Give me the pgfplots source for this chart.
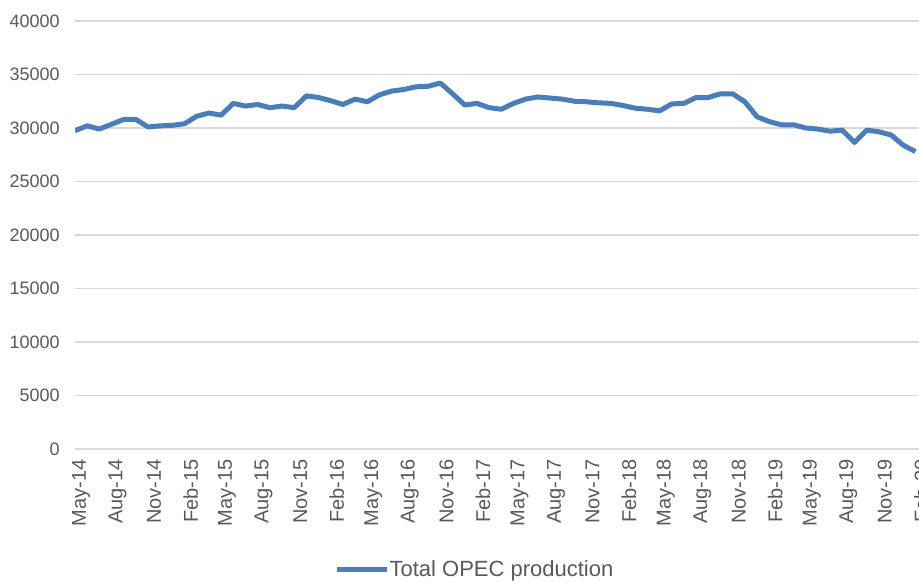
\documentclass[border=0pt]{standalone}
\usepackage{pgfplots}
\pgfplotsset{compat=1.18}
\usepackage{fontspec}
\setmainfont{Liberation Sans}
\usetikzlibrary{calc}
\definecolor{opecblue}{RGB}{74,126,187}
\definecolor{gridgray}{RGB}{217,217,217}
\definecolor{labelgray}{RGB}{89,89,89}

\begin{document}
\begin{tikzpicture}
  \begin{axis}[
    name=ax,
    scale only axis=true,
    width=422pt,
    height=214pt,
    xmin=0, xmax=69.3,
    ymin=0, ymax=40000,
    xtick={0,3,...,69},
    xticklabels={May-14,Aug-14,Nov-14,Feb-15,May-15,Aug-15,Nov-15,Feb-16,
      May-16,Aug-16,Nov-16,Feb-17,May-17,Aug-17,Nov-17,Feb-18,May-18,Aug-18,
      Nov-18,Feb-19,May-19,Aug-19,Nov-19,Feb-20},
    ytick={0,5000,...,40000},
    /pgf/number format/assume math mode=true,
    /pgf/number format/1000 sep={},
    scaled y ticks=false,
    ymajorgrids=true,
    grid style={draw=gridgray, line width=0.6pt},
    axis line style={draw=none},
    major tick length=0pt,
    tick label style={text=labelgray},
    yticklabel style={font=\fontsize{9}{10}\selectfont, inner sep=0pt, xshift=-7.5pt},
    % rotated labels: xshift moves them down, yshift sideways
    xticklabel style={font=\fontsize{10}{11}\selectfont, rotate=90, anchor=east,
      inner sep=0pt, yshift=-3pt, xshift=-5pt},
    legend style={
      draw=none,
      fill=none,
      at={(0.4727,-0.2827)},
      anchor=center,
      font=\fontsize{11}{12}\selectfont,
      text=labelgray,
      inner sep=0pt,
      nodes={inner sep=0pt, xshift=2.5pt},
    },
    legend image code/.code={\draw[#1] (0pt,0pt) -- (25pt,0pt);},
  ]
    \addplot[opecblue, line width=2.5pt, line join=round, mark=none]
      coordinates {
        (0,29750) (1,30200) (2,29900) (3,30350) (4,30800) (5,30800)
        (6,30100) (7,30200) (8,30250) (9,30400) (10,31100) (11,31400)
        (12,31200) (13,32300) (14,32050) (15,32200) (16,31900) (17,32050)
        (18,31900) (19,33000) (20,32850) (21,32550) (22,32200) (23,32700)
        (24,32450) (25,33100) (26,33450) (27,33600) (28,33850) (29,33900)
        (30,34200) (31,33200) (32,32150) (33,32300) (34,31900) (35,31750)
        (36,32300) (37,32700) (38,32900) (39,32800) (40,32700) (41,32500)
        (42,32450) (43,32350) (44,32300) (45,32100) (46,31850) (47,31750)
        (48,31600) (49,32250) (50,32300) (51,32850) (52,32850) (53,33200)
        (54,33200) (55,32450) (56,31050) (57,30600) (58,30300) (59,30300)
        (60,30000) (61,29900) (62,29700) (63,29800) (64,28650) (65,29800)
        (66,29650) (67,29350) (68,28400) (69,27800)
      };
    \addlegendentry{Total OPEC production}
  \end{axis}
  \pgfresetboundingbox
  \path ($(ax.south west)+(-37.5pt,-66.5pt)$) rectangle ($(ax.north east)+(0pt,10.5pt)$);
\end{tikzpicture}
\end{document}
